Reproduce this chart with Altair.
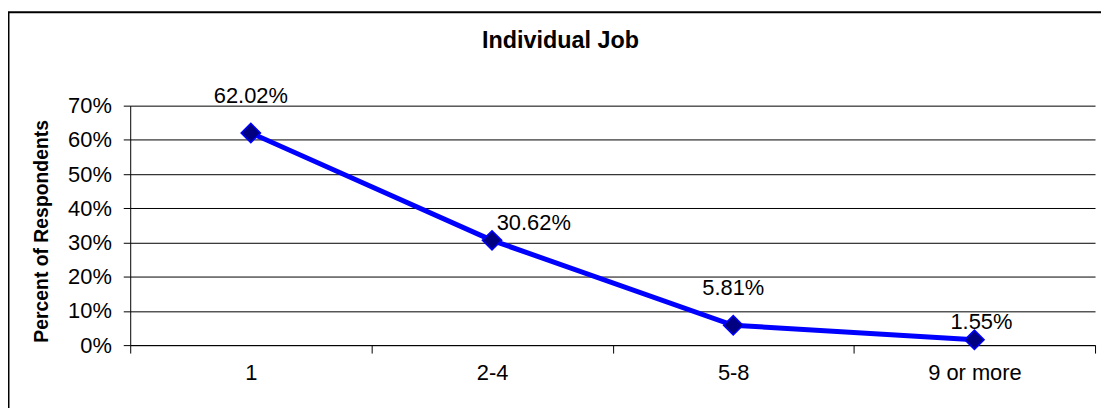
import altair as alt
import pandas as pd

title_text = "Individual Job"
categories = ["1", "2-4", "5-8", "9 or more"]
percent = [62.02, 30.62, 5.81, 1.55]
labels = ["62.02%", "30.62%", "5.81%", "1.55%"]
y_ticks = [0, 0.1, 0.2, 0.3, 0.4, 0.5, 0.6, 0.7]

df = pd.DataFrame({
    "cat": categories,
    "pct": [v / 100 for v in percent],
    "label": labels,
})

W, H = 971, 241
FONT = "Liberation Sans"

x_enc = alt.X(
    "cat:N", sort=categories, bandPosition=0.5,
    scale=alt.Scale(type="band", paddingInner=0, paddingOuter=0),
    axis=alt.Axis(title=None, tickBand="extent", tickSize=8, tickColor="black",
                  domainColor="black", labelFontSize=22, labelFont=FONT,
                  labelColor="black", labelPadding=10, labelAngle=0, grid=False),
)
y_enc = alt.Y(
    "pct:Q", scale=alt.Scale(domain=[0, 0.7]),
    axis=alt.Axis(values=y_ticks, format=".0%", title="Percent of Respondents",
                  titleFontSize=19.5, titleFont=FONT, titleFontWeight="bold",
                  titleColor="black", titleX=-79, titleY=126,
                  labelFontSize=22, labelFont=FONT, labelColor="black",
                  tickSize=7, tickColor="black", labelPadding=12,
                  grid=True, gridColor="black", gridOpacity=1, gridWidth=1,
                  domainColor="black"),
)

base = alt.Chart(df)
one = pd.DataFrame({"t": [title_text]})

frame = alt.Chart(one).mark_rect(
    fillOpacity=0, stroke="black", strokeWidth=2
).encode(
    x=alt.value(-122.5), x2=alt.value(1000),
    y=alt.value(-94), y2=alt.value(420),
)

title = alt.Chart(one).mark_text(
    font=FONT, fontSize=23.5, fontWeight="bold", color="black",
    align="center", baseline="alphabetic"
).encode(x=alt.value(433), y=alt.value(-58), text="t:N")

line = base.mark_line(color="#0000FF", strokeWidth=5).encode(x=x_enc, y=y_enc)
points = base.mark_point(shape="diamond", size=380, filled=True,
                         fill="#000080", stroke="#0000FF", strokeWidth=1.5,
                         opacity=1).encode(x=x_enc, y=y_enc)

offsets = {"1": (0, -30), "2-4": (42, -10), "5-8": (0, -30), "9 or more": (7, -11)}
texts = []
for c in categories:
    dx, dy = offsets[c]
    texts.append(
        base.transform_filter(alt.datum.cat == c).mark_text(
            font=FONT, fontSize=22, color="black", align="center",
            baseline="alphabetic", dx=dx, dy=dy
        ).encode(x=x_enc, y=y_enc, text="label:N")
    )

chart = alt.layer(frame, title, line, points, *texts).properties(
    width=W, height=H,
    autosize=alt.AutoSizeParams(type="none"),
    padding={"left": 123, "top": 97, "right": 6, "bottom": 62},
    background="white",
).configure_view(stroke=None)

chart.save("out.html", embed_options={"renderer": "svg", "actions": False})
